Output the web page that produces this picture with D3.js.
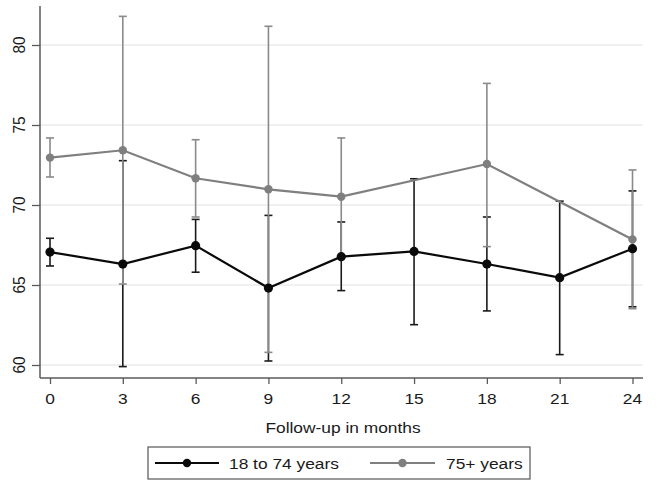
<!DOCTYPE html>
<html>
<head>
<meta charset="utf-8">
<script src="https://cdn.jsdelivr.net/npm/d3@7"></script>
<style>
  html, body { margin: 0; padding: 0; background: #fff; }
  svg { display: block; font-family: "Liberation Sans", Arial, Helvetica, sans-serif; }
</style>
</head>
<body>
<svg id="chart" width="659" height="488"></svg>
<script>
// ---- data ----
const months = [0, 3, 6, 9, 12, 15, 18, 21, 24];
const youngMean = [67.06, 66.31, 67.46, 64.81, 66.77, 67.10, 66.31, 65.46, 67.27];
const youngLo   = [66.19, 59.90, 65.80, 60.25, 64.65, 62.52, 63.38, 60.65, 63.64];
const youngHi   = [67.92, 72.77, 69.10, 69.35, 68.94, 71.64, 69.25, 70.24, 70.88];
const oldMean   = [72.96, 73.42, 71.67, 70.98, 70.52, null, 72.56, null, 67.85];
const oldLo     = [71.75, 65.06, 69.25, 60.79, 66.85, null, 67.40, null, 63.52];
const oldHi     = [74.19, 81.79, 74.08, 81.17, 74.19, null, 77.60, null, 72.19];
const yTicks = [60, 65, 70, 75, 80];
const xTicks = [0, 3, 6, 9, 12, 15, 18, 21, 24];
const seriesNames = ["18 to 74 years", "75+ years"];
const xTitle = "Follow-up in months";

// ---- layout ----
const svg = d3.select("#chart");
const x = d3.scaleLinear().domain([0, 24]).range([50, 632.5]);
const y = d3.scaleLinear().domain([60, 80]).range([365, 45]);
const plotLeft = 40, plotRight = 643, plotTop = 6, plotBottom = 378;
const SX = 1.12; // horizontal text stretch
const axisColor = "#5a5a5a";
const textColor = "#1a1a1a";
const blackC = "#0a0a0a", grayC = "#7f7f7f";

// gridlines
svg.append("g").selectAll("line").data(yTicks).join("line")
  .attr("x1", plotLeft).attr("x2", plotRight)
  .attr("y1", d => y(d)).attr("y2", d => y(d))
  .attr("stroke", "#ebebeb").attr("stroke-width", 1.5);

// axes
const yAxis = svg.append("g").attr("transform", `translate(${plotLeft},0)`)
  .call(d3.axisLeft(y).tickValues(yTicks).tickSize(8).tickFormat(""));
const xAxis = svg.append("g").attr("transform", `translate(0,${plotBottom})`)
  .call(d3.axisBottom(x).tickValues(xTicks).tickSize(6).tickFormat(""));
[yAxis, xAxis].forEach(g => {
  g.select(".domain").remove();
  g.selectAll(".tick line").attr("stroke", axisColor).attr("stroke-width", 1.3);
});
svg.append("line").attr("x1", plotLeft).attr("x2", plotLeft).attr("y1", plotTop).attr("y2", plotBottom)
  .attr("stroke", axisColor).attr("stroke-width", 1.5);
svg.append("line").attr("x1", plotLeft).attr("x2", plotRight).attr("y1", plotBottom).attr("y2", plotBottom)
  .attr("stroke", axisColor).attr("stroke-width", 1.5);

// tick labels
svg.append("g").selectAll("text").data(xTicks).join("text")
  .attr("transform", d => `translate(${x(d)},404) scale(${SX},1)`)
  .attr("text-anchor", "middle").attr("font-size", 15.5).attr("fill", textColor)
  .text(d => d);
svg.append("g").selectAll("text").data(yTicks).join("text")
  .attr("transform", d => `translate(25,${y(d)}) scale(${SX},1) rotate(-90)`)
  .attr("text-anchor", "middle").attr("font-size", 15.5).attr("fill", textColor)
  .text(d => d);

// x title
svg.append("text").attr("transform", `translate(343,433) scale(${SX},1)`)
  .attr("text-anchor", "middle").attr("font-size", 15.5).attr("fill", textColor)
  .text(xTitle);

// error bars
function errorBars(lo, hi, color, width) {
  const data = months.map((m, i) => ({m, lo: lo[i], hi: hi[i]})).filter(d => d.lo != null);
  const g = svg.append("g").attr("stroke", color).attr("stroke-width", width);
  g.selectAll("line.v").data(data).join("line").attr("class", "v")
    .attr("x1", d => x(d.m)).attr("x2", d => x(d.m))
    .attr("y1", d => y(d.lo)).attr("y2", d => y(d.hi));
  ["lo", "hi"].forEach(k => {
    g.selectAll("line.c" + k).data(data).join("line").attr("class", "c" + k)
      .attr("x1", d => x(d.m) - 4).attr("x2", d => x(d.m) + 4)
      .attr("y1", d => y(d[k])).attr("y2", d => y(d[k]));
  });
}
errorBars(youngLo, youngHi, "#1a1a1a", 1.6);
errorBars(oldLo, oldHi, "#8a8a8a", 1.6);

function series(mean, color, r) {
  const data = months.map((m, i) => ({m, v: mean[i]})).filter(d => d.v != null);
  const line = d3.line().x(d => x(d.m)).y(d => y(d.v));
  svg.append("path").datum(data).attr("d", line).attr("fill", "none")
    .attr("stroke", color).attr("stroke-width", 2.2);
  svg.append("g").selectAll("circle").data(data).join("circle")
    .attr("cx", d => x(d.m)).attr("cy", d => y(d.v)).attr("r", r).attr("fill", color);
}
series(oldMean, grayC, 4.2);
series(youngMean, blackC, 4.6);

// legend
const leg = svg.append("g");
leg.append("rect").attr("x", 148).attr("y", 447).attr("width", 382).attr("height", 32)
  .attr("fill", "#fff").attr("stroke", "#555").attr("stroke-width", 1.2);
const legItems = [
  {name: seriesNames[0], color: blackC, x0: 155, x1: 219, tx: 229, r: 4.2},
  {name: seriesNames[1], color: grayC, x0: 370, x1: 435, tx: 446, r: 4.2}
];
legItems.forEach(it => {
  leg.append("line").attr("x1", it.x0).attr("x2", it.x1).attr("y1", 463).attr("y2", 463)
    .attr("stroke", it.color).attr("stroke-width", 2);
  leg.append("circle").attr("cx", (it.x0 + it.x1) / 2).attr("cy", 463).attr("r", it.r).attr("fill", it.color);
  leg.append("text").attr("transform", `translate(${it.tx},469) scale(${SX},1)`)
    .attr("font-size", 15.5).attr("fill", textColor).text(it.name);
});
</script>
</body>
</html>
